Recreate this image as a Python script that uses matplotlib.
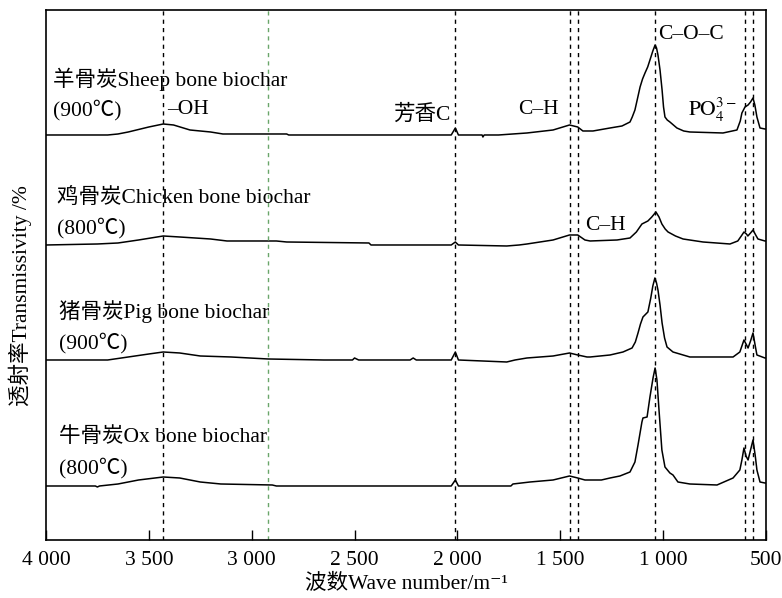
import matplotlib
matplotlib.use('Agg')
import matplotlib.pyplot as plt
from matplotlib.ticker import FuncFormatter

plt.rcParams['font.family'] = ['Liberation Serif', 'Noto Sans CJK SC', 'DejaVu Sans']
plt.rcParams['mathtext.fontset'] = 'stix'

# spectra (wave number, relative transmissivity above own baseline)
sheep_wn = [4000, 3700, 3650, 3600, 3500, 3430, 3380, 3300, 3200, 3140, 2830, 2820,
            2030, 2010, 1995, 1880, 1876, 1870, 1800, 1662, 1535, 1455, 1415, 1390,
            1341, 1258, 1200, 1161, 1150, 1137, 1125, 1112, 1100, 1088, 1075, 1064,
            1050, 1039, 1032, 1025, 1015, 1005, 998, 991, 980, 967, 950, 933, 900,
            870, 709, 641, 625, 617, 602, 587, 575, 563, 554, 544, 529, 505, 500]
sheep_t = [0, 0, 1, 3, 8, 11, 10, 5, 3, 1, 1, 0,
           0, 7, 0, 0, -2, 0, 0, 2, 5, 10, 8, 4,
           4, 7, 9, 13, 18, 25, 36, 48, 56, 62, 68, 75,
           84, 90, 87, 80, 65, 45, 28, 18, 15, 13, 10, 7, 4,
           3, 2, 5, 14, 22, 28, 30, 33, 37, 30, 18, 7, 6, 6]

chicken_wn = [4000, 3750, 3650, 3550, 3430, 3350, 3200, 3120, 2880, 2830, 2430, 2420,
              2030, 2010, 1995, 1760, 1700, 1662, 1535, 1455, 1415, 1380, 1355, 1224,
              1161, 1130, 1103, 1074, 1055, 1035, 1020, 1006, 990, 976, 940, 903, 806,
              675, 637, 620, 607, 595, 588, 575, 563, 550, 539, 505, 500]
chicken_t = [0, 1, 2, 5, 9, 8, 6, 4, 4, 3, 2, 0,
             0, 3, 0, -1, 0, 1, 5, 10, 10, 5, 4, 5,
             7, 13, 21, 24, 28, 33, 28, 21, 16, 13, 9, 6, 3,
             1, 4, 9, 13, 11, 9, 12, 15, 10, 6, 4, 4]

pig_wn = [4000, 3700, 3600, 3500, 3430, 3350, 3250, 3100, 2920, 2650, 2510, 2500, 2480,
          2230, 2215, 2200, 2030, 2010, 1995, 1760, 1720, 1662, 1535, 1455, 1415, 1370,
          1355, 1258, 1195, 1151, 1135, 1122, 1110, 1098, 1074, 1060, 1050, 1040, 1032,
          1025, 1015, 1005, 993, 981, 952, 870, 660, 627, 617, 607, 597, 587, 575, 563,
          552, 544, 505, 500]
pig_t = [0, 0, 3, 6, 8, 7, 4, 3, 1, 0, 0, 2, 0,
         0, 2, 0, 0, 8, 0, -2, 0, 2, 4, 7, 5, 3,
         3, 5, 8, 12, 18, 27, 36, 43, 48, 62, 74, 82, 77,
         70, 55, 37, 22, 13, 8, 3, 3, 8, 14, 20, 16, 12, 19, 27,
         14, 5, 2, 2]

ox_wn = [4000, 3760, 3750, 3740, 3650, 3550, 3430, 3350, 3250, 3150, 2900, 2880,
         2030, 2010, 1995, 1740, 1730, 1647, 1535, 1455, 1415, 1380, 1300, 1258,
         1210, 1161, 1137, 1122, 1103, 1098, 1078, 1064, 1049, 1039, 1030, 1020,
         1006, 991, 967, 952, 928, 870, 738, 660, 627, 617, 607, 597, 587, 575,
         563, 552, 544, 529, 505, 500]
ox_t = [0, 0, -1, 0, 2, 6, 9, 8, 4, 2, 1, 0,
        0, 6, 0, 0, 2, 4, 6, 10, 8, 6, 6, 8,
        10, 14, 24, 41, 64, 68, 69, 89, 108, 118, 106, 76,
        36, 19, 13, 11, 4, 2, 1, 8, 16, 26, 38, 30, 26, 36,
        46, 30, 16, 4, 3, 3]

spectra = [(sheep_wn, sheep_t), (chicken_wn, chicken_t), (pig_wn, pig_t), (ox_wn, ox_t)]
offsets = [405, 295, 180, 54]

names = ['羊骨炭Sheep bone biochar', '鸡骨炭Chicken bone biochar',
         '猪骨炭Pig bone biochar', '牛骨炭Ox bone biochar']
temps = ['(900℃)', '(800℃)', '(900℃)', '(800℃)']

band_lines = [3430, 2010, 1455, 1415, 1040, 603, 565]
green_line = 2920

fig = plt.figure(figsize=(7.82, 5.98), dpi=100)
ax = fig.add_axes([0.0588, 0.097, 0.9207, 0.8863])

for (wn, t), off in zip(spectra, offsets):
    ax.plot(wn, [v + off for v in t], color='black', lw=1.1)

for w in band_lines:
    ax.axvline(w, color='black', lw=1.0, ls=(0, (3, 3)))
ax.axvline(green_line, color='#6aa66a', lw=1.0, ls=(0, (3, 3)))

fs = 15.5
name_pos = [(3966, 461, 430), (3947, 342, 312), (3937, 228, 197), (3937, 103, 72)]
for name, temp, (x, y1, y2) in zip(names, temps, name_pos):
    ax.text(x, y1, name, fontsize=fs, va='center', ha='left')
    ax.text(x, y2, temp, fontsize=fs, va='center', ha='left')

ax.text(3412, 430, '–OH', fontsize=fs, va='center')
ax.text(2313, 425, '芳香C', fontsize=fs, va='center')
ax.text(1705, 430, 'C–H', fontsize=fs, va='center')
ax.text(1380, 314, 'C–H', fontsize=fs, va='center')
ax.text(1025, 505, 'C–O–C', fontsize=fs, va='center')
ax.text(879, 430, r'$\mathrm{PO}_4^{3-}$', fontsize=fs, va='center')

ax.set_xlim(4000, 500)
ax.set_ylim(0, 530)
ax.set_xticks([4000, 3500, 3000, 2500, 2000, 1500, 1000, 500])
ax.xaxis.set_major_formatter(FuncFormatter(lambda v, p: f'{int(v):,}'.replace(',', ' ')))
ax.set_yticks([])
ax.tick_params(axis='x', direction='in', length=7, width=1, labelsize=fs, pad=8)
for s in ax.spines.values():
    s.set_linewidth(1.2)

ax.set_xlabel('波数Wave number/m⁻¹', fontsize=fs, labelpad=3)
ax.set_ylabel('透射率Transmissivity /%', fontsize=fs)
ax.yaxis.set_label_coords(-0.020, 0.462)

fig.savefig('out.png', dpi=100)
